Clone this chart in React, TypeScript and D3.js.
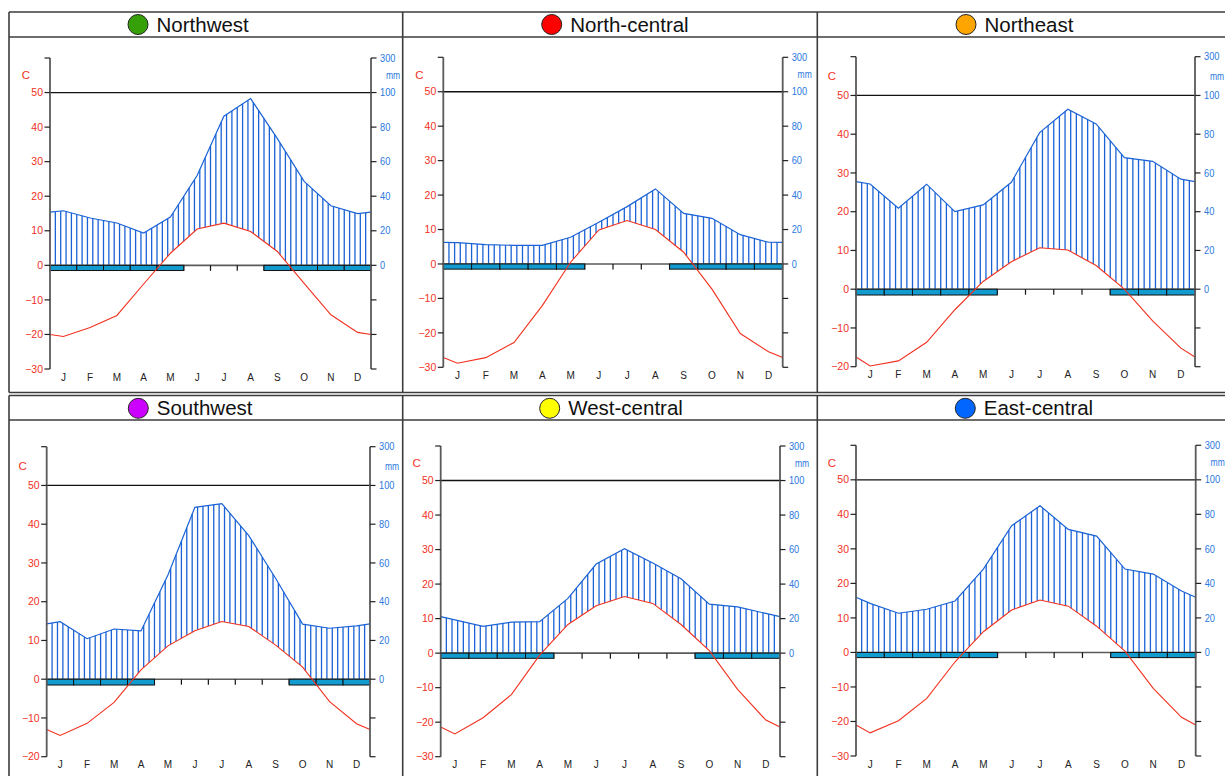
import React from "react";
import * as d3 from "d3";

// ---------- data ----------
const MONTHS = ["J", "F", "M", "A", "M", "J", "J", "A", "S", "O", "N", "D"];
const REGIONS = ["Northwest", "North-central", "Northeast", "Southwest", "West-central", "East-central"];
const MARKER_COLORS = ["#35a008", "#ff0000", "#ffa500", "#cc00ff", "#ffff00", "#0066ff"];

const TEMP_NW = [-20.6, -18.0, -14.5, -5.4, 3.5, 10.5, 12.2, 9.8, 4.0, -5.2, -14.3, -19.4];
const PREC_NW = [31.6, 27.4, 24.5, 18.7, 27.9, 52.0, 86.3, 96.5, 73.3, 48.6, 34.5, 29.9];
const TEMP_NC = [-28.8, -27.2, -22.8, -12.1, 0.5, 9.9, 12.6, 10.0, 3.4, -7.3, -20.2, -25.5];
const PREC_NC = [12.4, 11.2, 10.8, 10.8, 15.5, 24.2, 33.3, 43.6, 29.4, 26.5, 17.0, 12.6];
const TEMP_NE = [-19.8, -18.5, -13.7, -5.3, 2.0, 7.1, 10.7, 10.1, 6.1, 0.0, -8.2, -15.2];
const PREC_NE = [54.3, 41.8, 54.2, 40.0, 43.5, 55.2, 80.8, 92.9, 85.3, 67.9, 66.0, 56.8];
const TEMP_SW = [-14.5, -11.4, -6.0, 2.4, 8.6, 12.5, 14.9, 13.6, 8.8, 3.1, -5.8, -11.5];
const PREC_SW = [29.7, 20.9, 25.9, 24.9, 53.8, 88.7, 90.6, 74.1, 52.0, 28.4, 26.3, 27.5];
const TEMP_WC = [-23.4, -18.7, -12.0, -0.6, 8.3, 13.7, 16.4, 14.4, 8.3, 0.7, -10.5, -19.4];
const PREC_WC = [19.3, 15.5, 18.0, 18.2, 31.7, 51.6, 60.5, 52.2, 43.1, 28.4, 26.8, 23.0];
const TEMP_EC = [-23.3, -19.8, -13.3, -2.7, 6.0, 12.3, 15.2, 13.4, 7.6, 0.4, -10.4, -18.8];
const PREC_EC = [28.4, 22.7, 25.0, 29.8, 48.3, 73.4, 85.0, 71.3, 67.4, 48.3, 45.4, 35.6];

const FROST_NW = [1, 1, 1, 1, 1, 0, 0, 0, 1, 1, 1, 1];
const FROST_NC = [1, 1, 1, 1, 1, 0, 0, 0, 1, 1, 1, 1];
const FROST_NE = [1, 1, 1, 1, 1, 0, 0, 0, 0, 1, 1, 1];
const FROST_SW = [1, 1, 1, 1, 0, 0, 0, 0, 0, 1, 1, 1];
const FROST_WC = [1, 1, 1, 1, 0, 0, 0, 0, 0, 1, 1, 1];
const FROST_EC = [1, 1, 1, 1, 1, 0, 0, 0, 0, 1, 1, 1];

const TEMP_AXIS_MIN = [-30, -30, -20, -20, -30, -30];
const TEMP_TICKS = [-30, -20, -10, 0, 10, 20, 30, 40, 50, 60];
// right axis labels keyed by temperature-equivalent position
const PREC_TICK_POS = [0, 10, 20, 30, 40, 50, 60];
const PREC_TICK_LABELS = ["0", "20", "40", "60", "80", "100", "300"];

const TEMPS = [TEMP_NW, TEMP_NC, TEMP_NE, TEMP_SW, TEMP_WC, TEMP_EC];
const PRECS = [PREC_NW, PREC_NC, PREC_NE, PREC_SW, PREC_WC, PREC_EC];
const FROSTS = [FROST_NW, FROST_NC, FROST_NE, FROST_SW, FROST_WC, FROST_EC];

// ---------- layout ----------
const LAYOUT = [
  { left: 50, right: 371, top: 58, bottom: 369, cx: 138, cy: 24.5 },
  { left: 443.3, right: 782.7, top: 57.3, bottom: 367.3, cx: 551.7, cy: 24.5 },
  { left: 856, right: 1195, top: 56.7, bottom: 366.7, cx: 966, cy: 24.5 },
  { left: 46.7, right: 370, top: 446.7, bottom: 756.7, cx: 138.3, cy: 408.3 },
  { left: 440.7, right: 780, top: 446, bottom: 756.7, cx: 549.7, cy: 408.3 },
  { left: 856, right: 1195.7, top: 445.3, bottom: 756, cx: 965.3, cy: 408.3 },
];

const FONT = "'Liberation Sans', Arial, Helvetica, sans-serif";
const RED = "#f2301e";
const BLUE = "#2a78e0";
const PLINE = "#1a62d6";
const FROST_FILL = "#129bcf";
const AXIS = "#5a5a5a";

const precToT = (p: number) => (p <= 100 ? p / 2 : 50 + (p - 100) / 20);

function Panel({ idx }: { idx: number }) {
  const L = LAYOUT[idx];
  const temp = TEMPS[idx];
  const prec = PRECS[idx];
  const frost = FROSTS[idx];
  const tmin = TEMP_AXIS_MIN[idx];

  const x = d3.scaleLinear().domain([0, 12]).range([L.left, L.right]);
  const y = d3.scaleLinear().domain([tmin, 60]).range([L.bottom, L.top]);

  const xs = [0, ...MONTHS.map((_, i) => i + 0.5), 12];
  const edgeT = (temp[0] + temp[11]) / 2;
  const edgeP = (prec[0] + prec[11]) / 2;
  const tv = [edgeT, ...temp, edgeT];
  const pv = [edgeP, ...prec, edgeP].map(precToT);
  const tI = d3.scaleLinear().domain(xs).range(tv);
  const pI = d3.scaleLinear().domain(xs).range(pv);

  const line = d3
    .line<number>()
    .x((_, i) => x(xs[i]))
    .y((d) => y(d));

  const hatch: { x: number; y1: number; y2: number }[] = [];
  for (let k = 1; k < 60; k++) {
    const m = k / 5;
    const lo = Math.max(tI(m), 0);
    const hi = pI(m);
    if (hi > lo) hatch.push({ x: x(m), y1: y(hi), y2: y(lo) });
  }

  const y0 = y(0);
  const barH = y(-1.5) - y0;
  const tickLen = 5.5;
  const labelY = L.bottom + 11.5;

  return (
    <g>
      {/* title */}
      <circle cx={L.cx} cy={L.cy} r={10} fill={MARKER_COLORS[idx]} stroke="#222" strokeWidth={1} />
      <text x={L.cx + 18.5} y={L.cy + 7} fontSize={20.5} fontFamily={FONT} fill="#111">
        {REGIONS[idx]}
      </text>

      {/* hatching */}
      {hatch.map((h, i) => (
        <line key={i} x1={h.x} x2={h.x} y1={h.y1} y2={h.y2} stroke={PLINE} strokeWidth={1.3} />
      ))}

      {/* 50 / 100 line */}
      <line x1={L.left} x2={L.right} y1={y(50)} y2={y(50)} stroke="#111" strokeWidth={1.3} />

      {/* zero line */}
      <line x1={L.left} x2={L.right} y1={y0} y2={y0} stroke={AXIS} strokeWidth={1.6} />

      {/* month boundary ticks on zero line */}
      {d3.range(1, 12).map((i) => (
        <line key={"mt" + i} x1={x(i)} x2={x(i)} y1={y0} y2={y0 + tickLen} stroke="#111" strokeWidth={1.2} />
      ))}

      {/* frost bars */}
      {frost.map((f, i) =>
        f ? (
          <rect
            key={"fr" + i}
            x={x(i)}
            y={y0}
            width={x(i + 1) - x(i)}
            height={barH}
            fill={FROST_FILL}
            stroke="#111"
            strokeWidth={1}
          />
        ) : null
      )}

      {/* precipitation line */}
      <path d={line(pv) || ""} fill="none" stroke={PLINE} strokeWidth={1.2} />
      {/* temperature line */}
      <path d={line(tv) || ""} fill="none" stroke={RED} strokeWidth={1.1} />

      {/* axes */}
      <line x1={L.left} x2={L.left} y1={L.top} y2={L.bottom} stroke={AXIS} strokeWidth={1.8} />
      <line x1={L.right} x2={L.right} y1={L.top} y2={L.bottom} stroke={AXIS} strokeWidth={1.8} />

      {/* left ticks + labels */}
      {TEMP_TICKS.filter((t) => t >= tmin).map((t) => (
        <g key={"lt" + t}>
          <line x1={L.left - 5.5} x2={L.left} y1={y(t)} y2={y(t)} stroke="#222" strokeWidth={1.2} />
          {t < 60 ? (
            <text
              x={L.left - 7}
              y={y(t)}
              dy="0.35em"
              textAnchor="end"
              fontSize={10.5}
              fontFamily={FONT}
              fill={RED}
            >
              {t < 0 ? "\u2212" + Math.abs(t) : String(t)}
            </text>
          ) : null}
        </g>
      ))}
      <text x={L.left - 24} y={y(55)} dy="0.35em" textAnchor="middle" fontSize={11.5} fontFamily={FONT} fill={RED}>
        C
      </text>

      {/* right ticks + labels */}
      {TEMP_TICKS.filter((t) => t >= tmin).map((t) => (
        <line key={"rt" + t} x1={L.right} x2={L.right + 5.5} y1={y(t)} y2={y(t)} stroke="#222" strokeWidth={1.2} />
      ))}
      {PREC_TICK_POS.map((t, i) => (
        <text
          key={"rl" + t}
          x={L.right + 9}
          y={y(t)}
          dy="0.35em"
          fontSize={10.5}
          fontFamily={FONT}
          fill={BLUE}
          transform={`translate(${L.right + 9},0) scale(0.88,1) translate(${-(L.right + 9)},0)`}
        >
          {PREC_TICK_LABELS[i]}
        </text>
      ))}
      <text
        x={L.right + 22}
        y={y(55)}
        dy="0.35em"
        textAnchor="middle"
        fontSize={10}
        fontFamily={FONT}
        fill={BLUE}
        transform={`translate(${L.right + 22},0) scale(0.85,1) translate(${-(L.right + 22)},0)`}
      >
        mm
      </text>

      {/* month labels */}
      {MONTHS.map((m, i) => (
        <text
          key={"m" + i}
          x={x(i + 0.5)}
          y={labelY}
          textAnchor="middle"
          fontSize={10}
          fontFamily={FONT}
          fill="#222"
        >
          {m}
        </text>
      ))}
    </g>
  );
}

export default function App() {
  const border = "#3c3c3c";
  return (
    <svg
      width={1225}
      height={776}
      style={{ position: "absolute", left: 0, top: 0, background: "#fff" }}
    >
      <rect x={0} y={0} width={1225} height={776} fill="#fff" />
      {/* row 1 frame */}
      <line x1={9} x2={1225} y1={12} y2={12} stroke={border} strokeWidth={1.6} />
      <line x1={9} x2={1225} y1={37} y2={37} stroke={border} strokeWidth={1.6} />
      <line x1={9} x2={1225} y1={392.5} y2={392.5} stroke={border} strokeWidth={1.6} />
      {/* row 2 frame */}
      <line x1={9} x2={1225} y1={395.5} y2={395.5} stroke={border} strokeWidth={1.6} />
      <line x1={9} x2={1225} y1={420} y2={420} stroke={border} strokeWidth={1.6} />
      {/* verticals */}
      {[9, 402.7, 817.3].map((vx) => (
        <g key={vx}>
          <line x1={vx} x2={vx} y1={12} y2={392.5} stroke={border} strokeWidth={1.6} />
          <line x1={vx} x2={vx} y1={395.5} y2={776} stroke={border} strokeWidth={1.6} />
        </g>
      ))}
      {REGIONS.map((_, i) => (
        <Panel key={i} idx={i} />
      ))}
    </svg>
  );
}
